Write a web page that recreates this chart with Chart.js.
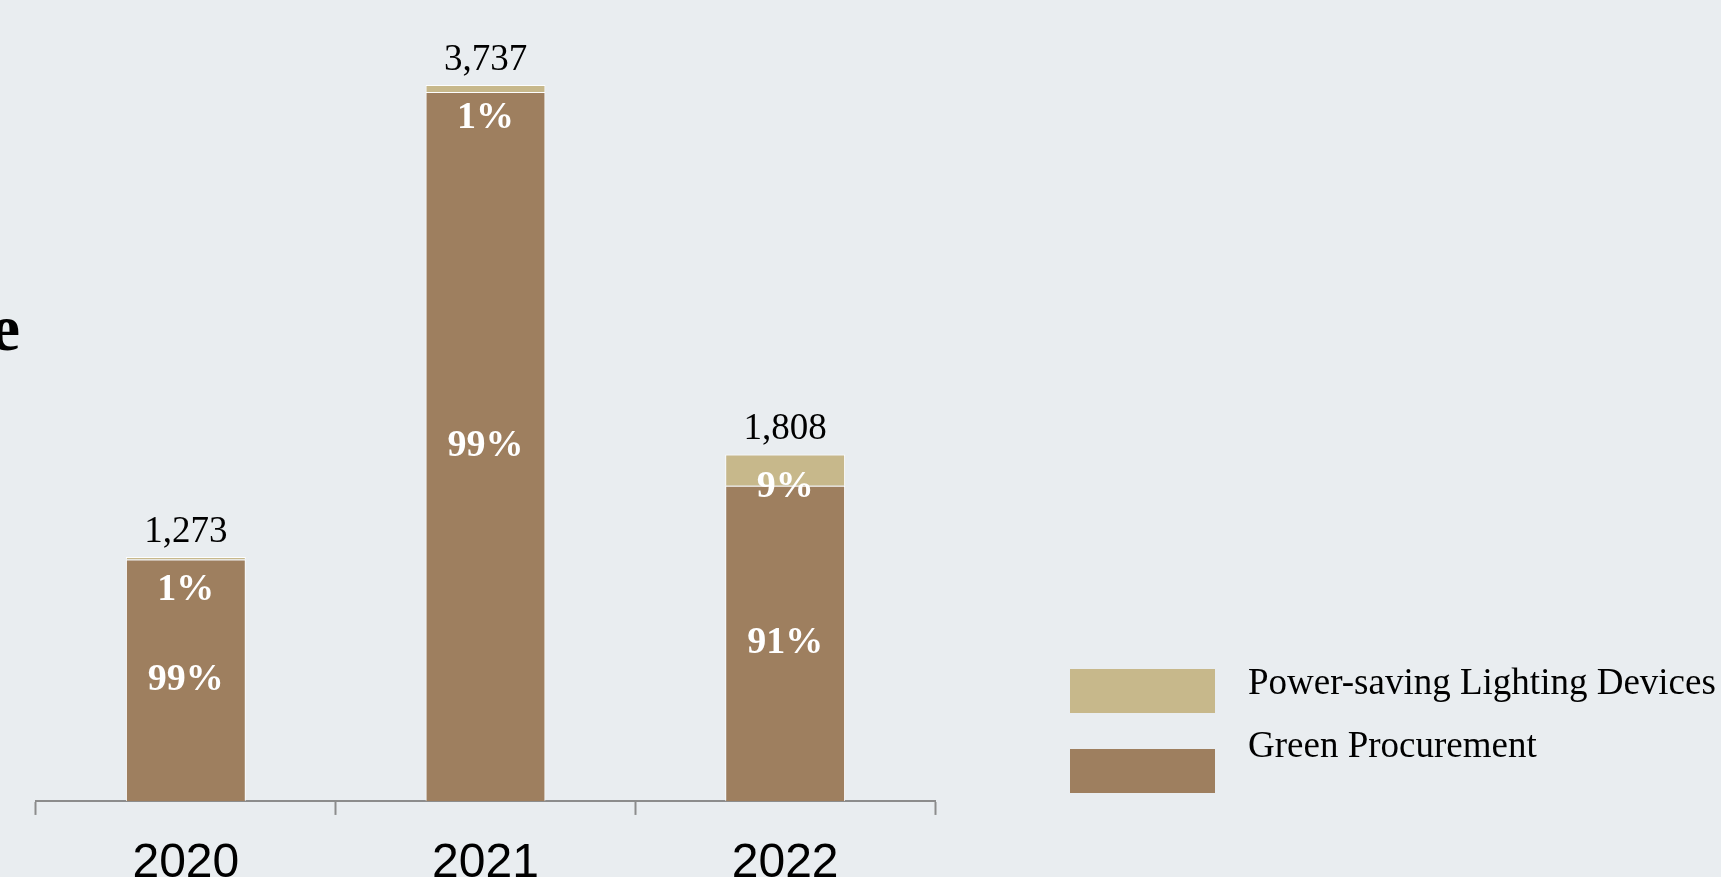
<!DOCTYPE html>
<html>
<head>
<meta charset="utf-8">
<script src="https://cdn.jsdelivr.net/npm/chart.js@4.4.1/dist/chart.umd.min.js"></script>
<style>
  html, body { margin: 0; padding: 0; background: #e9edf0; overflow: hidden; }
  canvas { display: block; }
</style>
</head>
<body>
<canvas id="chart" width="1721" height="877"></canvas>
<script>
// Procurement amounts per year, split by category
const years = ['2020', '2021', '2022'];
const greenProcurement = [1260, 3700, 1645];
const powerSavingLighting = [13, 37, 163];
const seriesNames = ['Green Procurement', 'Power-saving Lighting Devices'];
const seriesColors = ['#9e7f5f', '#c7b88b'];
const headingTail = 'e';

const totals = years.map((_, i) => greenProcurement[i] + powerSavingLighting[i]);

const SERIF = '"Liberation Serif", "Times New Roman", serif';
const SANS = '"Liberation Sans", Arial, sans-serif';

// Share labels inside each segment and the yearly total above each stack
const barLabels = {
  id: 'barLabels',
  afterDatasetsDraw(chart) {
    const ctx = chart.ctx;
    const metas = chart.data.datasets.map((d, i) => chart.getDatasetMeta(i));
    const topMeta = metas[metas.length - 1];
    ctx.save();
    ctx.textAlign = 'center';
    years.forEach((_, i) => {
      const total = totals[i];
      const stackTop = topMeta.data[i].y;
      metas.forEach((meta, di) => {
        const bar = meta.data[i];
        const v = chart.data.datasets[di].data[i];
        const top = Math.min(bar.y, bar.base);
        const bottom = Math.max(bar.y, bar.base);
        let cy = (top + bottom) / 2;
        cy = Math.max(cy, stackTop + 33);
        ctx.font = 'bold 38px ' + SERIF;
        ctx.fillStyle = '#ffffff';
        ctx.textBaseline = 'middle';
        ctx.fillText(Math.round(v / total * 100) + '%', bar.x, cy);
      });
      ctx.font = '37px ' + SERIF;
      ctx.fillStyle = '#000000';
      ctx.textBaseline = 'alphabetic';
      ctx.fillText(total.toLocaleString('en-US'), topMeta.data[i].x, stackTop - 15);
    });
    ctx.restore();
  }
};

// Legend on the right, top series first, plus the heading fragment on the left
const sideLegend = {
  id: 'sideLegend',
  afterDraw(chart) {
    const ctx = chart.ctx;
    const ds = chart.data.datasets;
    ctx.save();
    const order = [ds.length - 1, 0];
    const swatchTops = [669, 749];
    const textBaselines = [694, 757];
    order.forEach((di, k) => {
      ctx.fillStyle = ds[di].backgroundColor;
      ctx.fillRect(1070, swatchTops[k], 145, 44);
      ctx.fillStyle = '#000000';
      ctx.font = '37px ' + SERIF;
      ctx.textAlign = 'left';
      ctx.textBaseline = 'alphabetic';
      ctx.fillText(ds[di].label, 1248, textBaselines[k]);
    });
    ctx.font = 'bold 66px ' + SERIF;
    ctx.textAlign = 'right';
    ctx.fillStyle = '#000000';
    ctx.fillText(headingTail, 20, 350);
    ctx.restore();
  }
};

new Chart(document.getElementById('chart'), {
  type: 'bar',
  data: {
    labels: years,
    datasets: [
      {
        label: seriesNames[0],
        data: greenProcurement,
        backgroundColor: seriesColors[0],
        borderColor: 'rgba(255,255,255,0.9)',
        borderWidth: 1
      },
      {
        label: seriesNames[1],
        data: powerSavingLighting,
        backgroundColor: seriesColors[1],
        borderColor: 'rgba(255,255,255,0.9)',
        borderWidth: 1
      }
    ]
  },
  options: {
    responsive: false,
    animation: false,
    layout: { padding: { left: 36, right: 786, top: 0, bottom: -36 } },
    datasets: { bar: { barPercentage: 0.4, categoryPercentage: 1 } },
    plugins: { legend: { display: false }, tooltip: { enabled: false } },
    scales: {
      x: {
        stacked: true,
        offset: true,
        grid: {
          display: true,
          offset: true,
          drawOnChartArea: false,
          drawTicks: true,
          tickLength: 14,
          tickWidth: 2,
          tickColor: '#8c8c8c'
        },
        border: { display: true, color: '#8c8c8c', width: 2 },
        ticks: {
          color: '#000000',
          padding: 26,
          maxRotation: 0,
          font: { family: SANS, size: 48, lineHeight: 0.96 }
        }
      },
      y: {
        stacked: true,
        display: false,
        min: 0,
        max: 4180
      }
    }
  },
  plugins: [barLabels, sideLegend]
});
</script>
</body>
</html>
